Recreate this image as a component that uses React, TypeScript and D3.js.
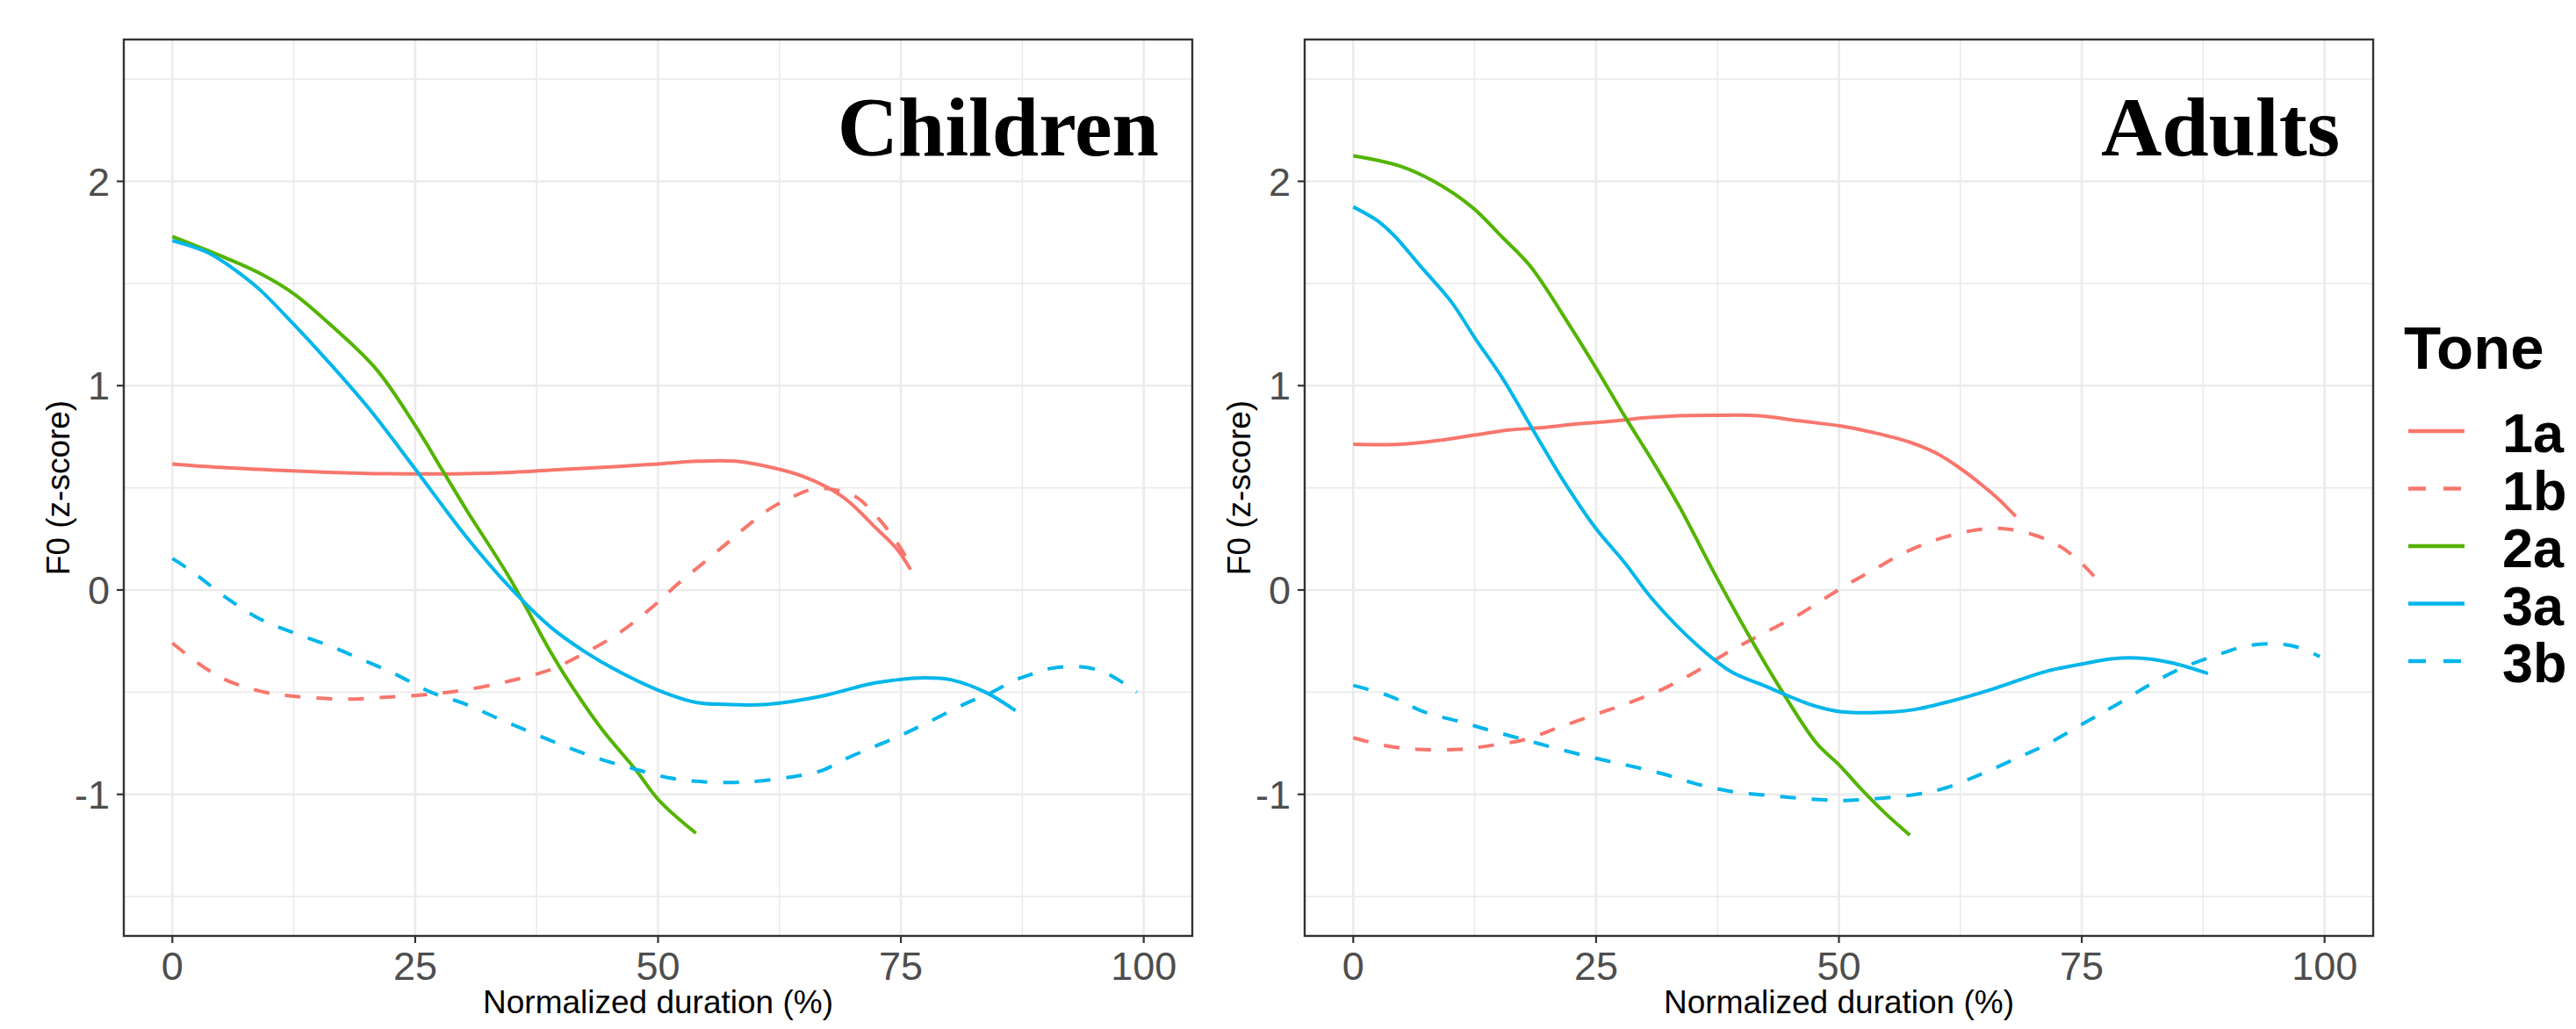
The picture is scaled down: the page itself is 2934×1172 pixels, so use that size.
import React from "react";
import * as d3 from "d3";

// ---- Data ----
const tones = ["1a", "1b", "2a", "3a", "3b"];
const toneColors = ["#F8766D", "#F8766D", "#53B400", "#00B6EB", "#00B6EB"];
const toneDashed = [false, true, false, false, true];
const panels = ["Children", "Adults"];
const xTicks = [0, 25, 50, 75, 100];
const xMinor = [12.5, 37.5, 62.5, 87.5];
const yTicks = [-1, 0, 1, 2];
const yMinor = [-1.5, -0.5, 0.5, 1.5, 2.5];

const children1a = [[0,0.617],[5,0.60],[10,0.588],[16,0.576],[22,0.569],[30,0.569],[35,0.576],[40,0.59],[46,0.605],[50,0.617],[54,0.63],[58,0.63],[62,0.596],[65,0.555],[67.5,0.50],[69.6,0.434],[72.5,0.30],[74.6,0.20],[76,0.10]];
const children1b = [[0,-0.26],[3,-0.37],[5.5,-0.44],[7.5,-0.475],[10,-0.505],[12.5,-0.52],[17.8,-0.534],[21.3,-0.527],[26.6,-0.51],[30,-0.49],[34.3,-0.45],[38.9,-0.39],[42.4,-0.31],[46,-0.21],[50,-0.06],[51.8,0.02],[54.6,0.13],[57,0.225],[59.1,0.31],[61.6,0.40],[64,0.46],[66.1,0.495],[68.2,0.49],[70.4,0.455],[72.8,0.344],[74.9,0.21],[76,0.12]];
const children2a = [[0,1.73],[5.5,1.625],[9,1.55],[12.5,1.45],[16.7,1.28],[21,1.08],[24.8,0.82],[28,0.57],[30.3,0.39],[34.7,0.06],[38.9,-0.30],[40.7,-0.44],[44.2,-0.68],[47.7,-0.88],[50.1,-1.03],[53.9,-1.19]];
const children3a = [[0,1.71],[3.7,1.65],[7.2,1.54],[9,1.47],[12.5,1.30],[16,1.12],[20.2,0.89],[24.8,0.605],[30.1,0.27],[35,0],[38.9,-0.18],[42.4,-0.30],[46,-0.40],[50,-0.49],[53.9,-0.55],[57,-0.56],[61.2,-0.56],[66.8,-0.52],[71.8,-0.46],[74.6,-0.44],[77.4,-0.43],[80.2,-0.44],[83.7,-0.50],[86.8,-0.59]];
const children3b = [[0,0.154],[1.9,0.095],[5.5,-0.036],[9,-0.142],[12.5,-0.21],[16,-0.27],[19.5,-0.34],[23.1,-0.415],[26.6,-0.50],[30.1,-0.557],[33.6,-0.63],[37.1,-0.70],[40.7,-0.77],[44.2,-0.83],[47.5,-0.875],[50.7,-0.915],[53.5,-0.935],[58.8,-0.94],[64,-0.913],[66.8,-0.885],[69.6,-0.82],[74.6,-0.72],[78.1,-0.64],[81.6,-0.557],[84.4,-0.50],[86.8,-0.44],[88.6,-0.41],[90.4,-0.384],[93.2,-0.375],[95.6,-0.396],[97.4,-0.44],[99.3,-0.50]];

const adults1a = [[0,0.713],[4.8,0.713],[9,0.733],[12.5,0.758],[16,0.783],[19.6,0.795],[23.1,0.813],[26.6,0.826],[30.1,0.843],[33.6,0.853],[37.2,0.855],[41.7,0.853],[45.9,0.828],[50.1,0.803],[53.6,0.77],[57.2,0.725],[60,0.67],[62.5,0.595],[64.9,0.507],[66.6,0.437],[68.2,0.36]];
const adults1b = [[0,-0.723],[3.1,-0.76],[6.6,-0.78],[10.8,-0.78],[14.3,-0.76],[17.8,-0.73],[21.3,-0.67],[24.9,-0.61],[28.4,-0.552],[31.9,-0.484],[35.4,-0.396],[38.9,-0.296],[42.4,-0.208],[45.9,-0.12],[50.1,0.005],[53.6,0.10],[57.2,0.193],[60.7,0.256],[64.2,0.294],[67,0.30],[69.8,0.274],[72.6,0.218],[74.7,0.143],[77.2,0.018]];
const adults2a = [[0,2.125],[4.8,2.075],[8.3,2.0],[12.2,1.875],[15.4,1.724],[18.2,1.586],[22.4,1.285],[25.2,1.07],[28,0.846],[30.8,0.632],[33.6,0.406],[37.2,0.08],[40.7,-0.22],[44.2,-0.50],[47.7,-0.75],[50.1,-0.86],[52.2,-0.97],[54.7,-1.09],[57.3,-1.20]];
const adults3a = [[0,1.875],[2.4,1.81],[4.1,1.74],[6.9,1.586],[10.1,1.41],[12.5,1.235],[15.4,1.034],[18.2,0.808],[21.7,0.53],[24.9,0.306],[28,0.13],[30.8,-0.045],[35.4,-0.27],[38.9,-0.40],[42.4,-0.47],[45.9,-0.54],[47.7,-0.57],[50.1,-0.595],[55.4,-0.597],[57.8,-0.585],[61.3,-0.547],[65.9,-0.484],[71.2,-0.40],[75.4,-0.359],[78.2,-0.336],[81.7,-0.336],[84.5,-0.359],[88,-0.409]];
const adults3b = [[0,-0.467],[3.8,-0.52],[7.3,-0.597],[10.8,-0.642],[14.3,-0.69],[17.8,-0.735],[21.3,-0.78],[24.9,-0.823],[28.4,-0.86],[31.9,-0.90],[35.4,-0.95],[38.9,-0.986],[42.4,-1.004],[45.9,-1.019],[49.5,-1.029],[51.1,-1.029],[57.1,-1.006],[60.6,-0.974],[64.8,-0.898],[68.3,-0.823],[71.2,-0.76],[75.4,-0.647],[78.2,-0.572],[81.7,-0.472],[85.2,-0.384],[88.8,-0.32],[92.3,-0.271],[95.8,-0.266],[97.5,-0.284],[99.5,-0.326]];

const panelSeries = [
  [children1a, children1b, children2a, children3a, children3b],
  [adults1a, adults1b, adults2a, adults3a, adults3b],
];

// ---- Layout ----
const W = 2934, H = 1172;
const panelLefts = [141, 1486];
const panelWidth = 1217;
const top = 45, bottom = 1066;
const xDomain = [-5, 105];
const yDomain = [-1.693, 2.694];

const sans = "'Liberation Sans', Arial, sans-serif";
const serif = "'Liberation Serif', 'Times New Roman', serif";
const border = "#333333";
const grid = "#EBEBEB";
const tickText = "#4D4D4D";
const DASH = "18,18";

function Panel({ idx }: { idx: number }) {
  const x0 = panelLefts[idx];
  const x = d3.scaleLinear().domain(xDomain).range([x0, x0 + panelWidth]);
  const y = d3.scaleLinear().domain(yDomain).range([bottom, top]);
  const line = d3
    .line<number[]>()
    .x((d) => x(d[0]))
    .y((d) => y(d[1]))
    .curve(d3.curveCatmullRom.alpha(0.5));
  const clipId = `clip-${idx}`;
  return (
    <g>
      <defs>
        <clipPath id={clipId}>
          <rect x={x0} y={top} width={panelWidth} height={bottom - top} />
        </clipPath>
      </defs>
      <rect x={x0} y={top} width={panelWidth} height={bottom - top} fill="#fff" />
      {yMinor.map((v) => (
        <line key={"ym" + v} x1={x0} x2={x0 + panelWidth} y1={y(v)} y2={y(v)} stroke={grid} strokeWidth={1.6} />
      ))}
      {xMinor.map((v) => (
        <line key={"xm" + v} x1={x(v)} x2={x(v)} y1={top} y2={bottom} stroke={grid} strokeWidth={1.6} />
      ))}
      {yTicks.map((v) => (
        <line key={"yM" + v} x1={x0} x2={x0 + panelWidth} y1={y(v)} y2={y(v)} stroke={grid} strokeWidth={2.6} />
      ))}
      {xTicks.map((v) => (
        <line key={"xM" + v} x1={x(v)} x2={x(v)} y1={top} y2={bottom} stroke={grid} strokeWidth={2.6} />
      ))}
      <g clipPath={`url(#${clipId})`}>
        {panelSeries[idx].map((s, i) => (
          <path
            key={tones[i]}
            d={line(s) || ""}
            fill="none"
            stroke={toneColors[i]}
            strokeWidth={4}
            strokeDasharray={toneDashed[i] ? DASH : undefined}
          />
        ))}
      </g>
      <text
        x={x0 + panelWidth - 38}
        y={177}
        textAnchor="end"
        fontFamily={serif}
        fontWeight="bold"
        fontSize={96}
        fill="#000"
      >
        {panels[idx]}
      </text>
      <rect x={x0} y={top} width={panelWidth} height={bottom - top} fill="none" stroke={border} strokeWidth={2.4} />
      {/* x axis */}
      {xTicks.map((v) => (
        <g key={"xt" + v}>
          <line x1={x(v)} x2={x(v)} y1={bottom} y2={bottom + 8} stroke={border} strokeWidth={2.2} />
          <text x={x(v)} y={1116} textAnchor="middle" fontFamily={sans} fontSize={45} fill={tickText}>
            {v}
          </text>
        </g>
      ))}
      {/* y axis */}
      {yTicks.map((v) => (
        <g key={"yt" + v}>
          <line x1={x0 - 8} x2={x0} y1={y(v)} y2={y(v)} stroke={border} strokeWidth={2.2} />
          <text
            x={x0 - 16}
            y={y(v)}
            dy="0.36em"
            textAnchor="end"
            fontFamily={sans}
            fontSize={45}
            fill={tickText}
          >
            {v}
          </text>
        </g>
      ))}
      <text
        x={x0 + panelWidth / 2}
        y={1154}
        textAnchor="middle"
        fontFamily={sans}
        fontSize={37}
        fill="#000"
      >
        Normalized duration (%)
      </text>
      <text
        transform={`translate(${x0 - 62},${(top + bottom) / 2}) rotate(-90)`}
        textAnchor="middle"
        fontFamily={sans}
        fontSize={37}
        fill="#000"
      >
        F0 (z-score)
      </text>
    </g>
  );
}

function Legend() {
  const lx = 2743;
  const ly0 = 491;
  const step = 65.5;
  return (
    <g>
      <text x={2738} y={420} fontFamily={sans} fontWeight="bold" fontSize={69} fill="#000">
        Tone
      </text>
      {tones.map((t, i) => (
        <g key={t}>
          <line
            x1={lx}
            x2={lx + 64}
            y1={ly0 + i * step}
            y2={ly0 + i * step}
            stroke={toneColors[i]}
            strokeWidth={4.3}
            strokeDasharray={toneDashed[i] ? "20,20" : undefined}
          />
          <text
            x={2850}
            y={ly0 + i * step + 24}
            fontFamily={sans}
            fontWeight="bold"
            fontSize={63}
            fill="#000"
          >
            {t}
          </text>
        </g>
      ))}
    </g>
  );
}

export default function App() {
  return (
    <svg
      width={W}
      height={H}
      viewBox={`0 0 ${W} ${H}`}
      style={{ position: "absolute", left: 0, top: 0, background: "#fff" }}
    >
      <rect x={0} y={0} width={W} height={H} fill="#fff" />
      <Panel idx={0} />
      <Panel idx={1} />
      <Legend />
    </svg>
  );
}
